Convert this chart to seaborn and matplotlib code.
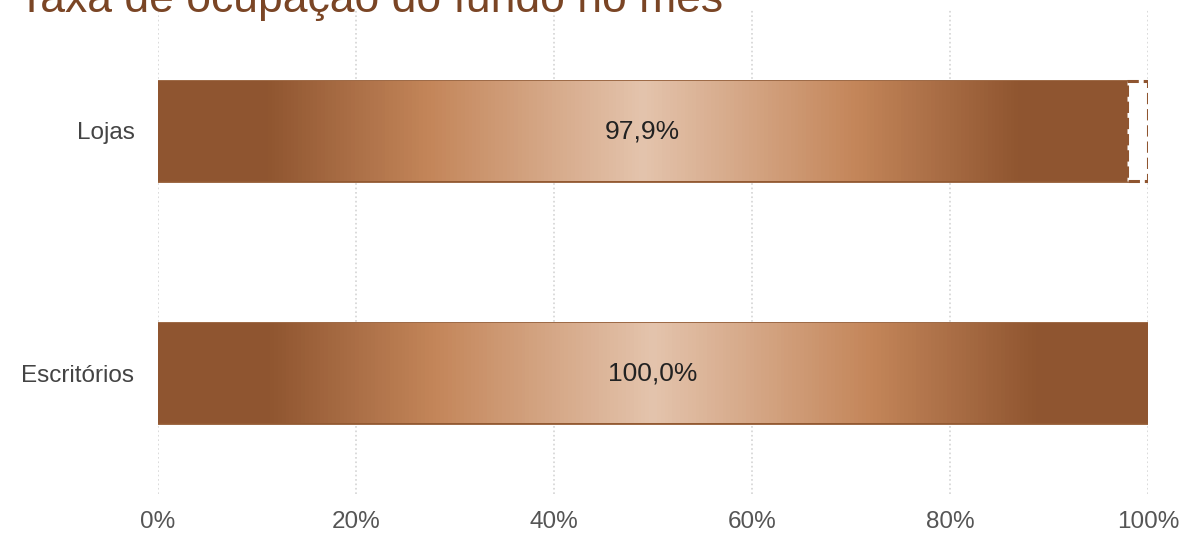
import numpy as np
import pandas as pd
import matplotlib
matplotlib.use("Agg")
import matplotlib.pyplot as plt
from matplotlib.colors import LinearSegmentedColormap
from matplotlib.ticker import FuncFormatter
import seaborn as sns

# data
categorias = ["Lojas", "Escritórios"]
ocupacao = [97.9, 100.0]
rotulos = ["97,9%", "100,0%"]
x_ticks = [0, 20, 40, 60, 80, 100]

df = pd.DataFrame({"categoria": categorias, "ocupacao": ocupacao})

sns.set_style("white")
plt.rcParams["font.family"] = ["Liberation Sans", "DejaVu Sans"]

marrom = "#8f5530"
grad = LinearSegmentedColormap.from_list(
    "cobre",
    [(0.0, marrom), (0.11, marrom), (0.28, "#c4865a"), (0.5, "#e4c4ad"),
     (0.72, "#c4865a"), (0.89, marrom), (1.0, marrom)])

fig = plt.figure(figsize=(11.83, 5.33), dpi=100)
ax = fig.add_axes([158 / 1183, 1 - 494 / 533, 990 / 1183, 484 / 533])

sns.barplot(data=df, x="ocupacao", y="categoria", orient="h", ax=ax,
            width=0.41, color=marrom, edgecolor="#935a32", linewidth=2)

# gradient fill, clipped to each bar
for p in list(ax.patches):
    x0, y0 = p.get_x(), p.get_y()
    w, h = p.get_width(), p.get_height()
    img = ax.imshow(np.linspace(0, 1, 256).reshape(1, -1), cmap=grad,
                    aspect="auto", extent=[x0, x0 + w, y0 + h, y0],
                    zorder=p.get_zorder() + 0.1)
    img.set_clip_path(p)

# vacancy part of Lojas (dashed outline)
vago = 100 - ocupacao[0]
ax.barh(0, vago, left=ocupacao[0], height=0.41, color="white",
        edgecolor=marrom, linestyle="--", linewidth=2.2, zorder=3)

for i, t in enumerate(rotulos):
    ax.text(ocupacao[i] / 2, i, t, ha="center", va="center",
            fontsize=19, color="#222222", zorder=5)

ax.set_xlim(0, 100)
ax.set_ylim(1.5, -0.5)
ax.set_xticks(x_ticks)
ax.xaxis.set_major_formatter(FuncFormatter(lambda v, _: f"{v:.0f}%"))
ax.grid(axis="x", color="#d4d4d4", linestyle=":", linewidth=1.2)
ax.set_axisbelow(True)
ax.set_xlabel("")
ax.set_ylabel("")
ax.tick_params(axis="x", length=0, pad=12, labelsize=17.5, labelcolor="#555555")
ax.tick_params(axis="y", length=0, pad=17, labelsize=17.5, labelcolor="#444444")
sns.despine(ax=ax, left=True, bottom=True)

# title is partly above the top edge, as in the original
fig.text(18 / 1183, 1 - 12 / 533, "Taxa de ocupação do fundo no mês",
         fontsize=32, color="#7a4525", ha="left", va="baseline")

fig.savefig("out.png", dpi=100)
